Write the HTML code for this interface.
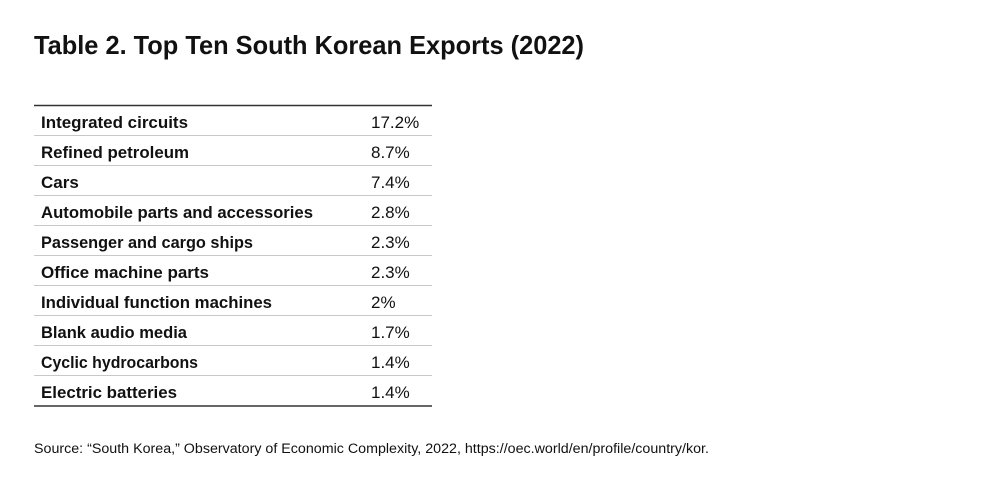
<!DOCTYPE html>
<html><head><meta charset="utf-8"><style>
html,body{margin:0;padding:0;background:#fff;}
svg{display:block}
text{font-family:"Liberation Sans",sans-serif;fill:#111;}
</style></head><body>
<svg width="1000" height="496" xmlns="http://www.w3.org/2000/svg">
<text x="34" y="54" font-size="26" font-weight="bold" textLength="550" lengthAdjust="spacingAndGlyphs">Table 2. Top Ten South Korean Exports (2022)</text>
<line x1="34" y1="105.5" x2="432" y2="105.5" stroke="#333" stroke-width="1.5"/>
<g stroke="#c8c8c8" stroke-width="1">
<line x1="34" y1="135.5" x2="432" y2="135.5"/>
<line x1="34" y1="165.5" x2="432" y2="165.5"/>
<line x1="34" y1="195.5" x2="432" y2="195.5"/>
<line x1="34" y1="225.5" x2="432" y2="225.5"/>
<line x1="34" y1="255.5" x2="432" y2="255.5"/>
<line x1="34" y1="285.5" x2="432" y2="285.5"/>
<line x1="34" y1="315.5" x2="432" y2="315.5"/>
<line x1="34" y1="345.5" x2="432" y2="345.5"/>
<line x1="34" y1="375.5" x2="432" y2="375.5"/>
</g>
<line x1="34" y1="406" x2="432" y2="406" stroke="#333" stroke-width="1.5"/>
<g font-size="17" font-weight="bold">
<text x="41" y="128" textLength="147" lengthAdjust="spacingAndGlyphs">Integrated circuits</text>
<text x="41" y="158" textLength="148" lengthAdjust="spacingAndGlyphs">Refined petroleum</text>
<text x="41" y="188">Cars</text>
<text x="41" y="218" textLength="272" lengthAdjust="spacingAndGlyphs">Automobile parts and accessories</text>
<text x="41" y="248" textLength="212" lengthAdjust="spacingAndGlyphs">Passenger and cargo ships</text>
<text x="41" y="278" textLength="168" lengthAdjust="spacingAndGlyphs">Office machine parts</text>
<text x="41" y="308" textLength="231" lengthAdjust="spacingAndGlyphs">Individual function machines</text>
<text x="41" y="338" textLength="146" lengthAdjust="spacingAndGlyphs">Blank audio media</text>
<text x="41" y="368" textLength="157" lengthAdjust="spacingAndGlyphs">Cyclic hydrocarbons</text>
<text x="41" y="398" textLength="136" lengthAdjust="spacingAndGlyphs">Electric batteries</text>
</g>
<g font-size="17">
<text x="371" y="128">17.2%</text>
<text x="371" y="158">8.7%</text>
<text x="371" y="188">7.4%</text>
<text x="371" y="218">2.8%</text>
<text x="371" y="248">2.3%</text>
<text x="371" y="278">2.3%</text>
<text x="371" y="308">2%</text>
<text x="371" y="338">1.7%</text>
<text x="371" y="368">1.4%</text>
<text x="371" y="398">1.4%</text>
</g>
<text x="34" y="453" font-size="13.5" textLength="675" lengthAdjust="spacingAndGlyphs">Source: “South Korea,” Observatory of Economic Complexity, 2022, https://oec.world/en/profile/country/kor.</text>
</svg>
</body></html>
